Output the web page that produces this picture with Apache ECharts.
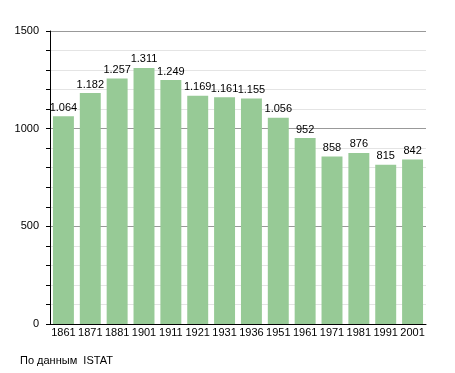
<!DOCTYPE html>
<html><head><meta charset="utf-8">
<script src="https://cdn.jsdelivr.net/npm/echarts@6/dist/echarts.min.js"></script>
<style>html,body{margin:0;padding:0;background:#fff}#c{width:455px;height:373px}</style>
</head><body><div id="c"></div>
<script>
const categories = ['1861','1871','1881','1901','1911','1921','1931','1936','1951','1961','1971','1981','1991','2001'];
const values = [1064,1182,1257,1311,1249,1169,1161,1155,1056,952,858,876,815,842];
const yTicks = [0,500,1000,1500];
const chart = echarts.init(document.getElementById('c'));
const fmt = v => v >= 1000 ? Math.floor(v/1000) + '.' + String(v%1000).padStart(3,'0') : String(v);
chart.setOption({
  animation:false,
  textStyle:{fontFamily:'Liberation Sans, Arial, sans-serif'},
  title:{text:'По данным  ISTAT', left:15, top:350, textStyle:{fontSize:11, fontWeight:'normal', color:'#000'}},
  grid:{left:50, right:29, top:31, bottom:49},
  xAxis:{type:'category', data:categories,
    axisLine:{lineStyle:{color:'#000', width:1}},
    axisTick:{show:false},
    axisLabel:{color:'#000', fontSize:11, margin:3, interval:0}},
  yAxis:{type:'value', min:0, max:1500, interval:100,
    axisLine:{show:true, lineStyle:{color:'#000'}},
    axisTick:{show:true, length:4, lineStyle:{color:'#000'}},
    axisLabel:{color:'#000', fontSize:11, margin:11,
      formatter: v => yTicks.includes(v) ? String(v) : ''},
    splitLine:{show:true, lineStyle:{color:['#999','#e4e4e4','#e4e4e4','#e4e4e4','#e4e4e4'], width:1}}},
  series:[{type:'bar', data:values, barCategoryGap:'22%',
    itemStyle:{color:'#97ca96'},
    label:{show:true, position:'top', distance:3, color:'#000', fontSize:11, formatter:p=>fmt(p.value)}}]
});
</script></body></html>
